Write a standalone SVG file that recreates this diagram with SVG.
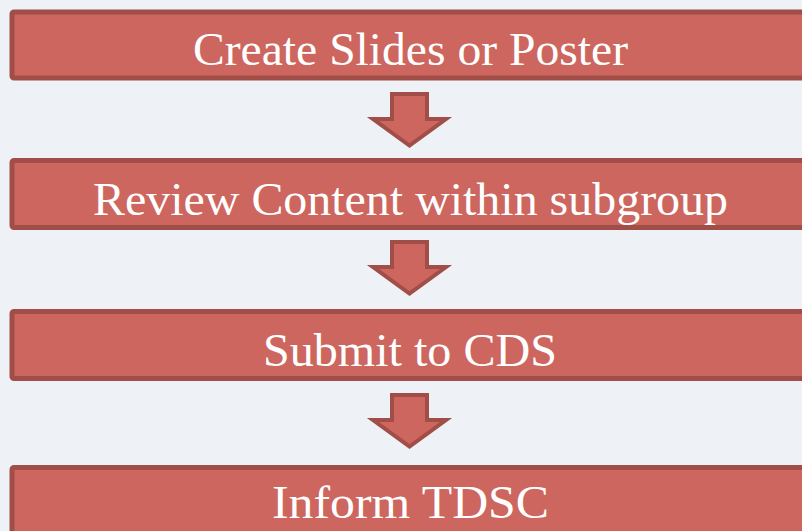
<svg xmlns="http://www.w3.org/2000/svg" width="802" height="531" viewBox="0 0 802 531">
<style>
.box{fill:#cd665e;stroke:#a04e47;stroke-width:5}
.arr{fill:#cd665e;stroke:#a04e47;stroke-width:4;stroke-linejoin:miter}
.t{font-family:"Liberation Serif","Times New Roman",serif;font-size:46px;fill:#ffffff;text-anchor:middle}
</style>
<rect width="802" height="531" fill="#eef2f7"/>
<defs>
<path id="ar" class="arr" d="M392,94 H427 V119 H446 L409.5,145.5 L373,119 H392 Z"/>
</defs>
<g id="connectors">
<use href="#ar"/>
<use href="#ar" transform="translate(0,148)"/>
<use href="#ar" transform="translate(0,301)"/>
</g>
<g id="n1"><rect class="box" x="12" y="12" width="800" height="66" rx="2"/><text class="t" x="410.5" y="65" textLength="435" lengthAdjust="spacingAndGlyphs">Create Slides or Poster</text></g>
<g id="n2"><rect class="box" x="12" y="160.5" width="800" height="67" rx="2"/><text class="t" x="410.5" y="215" textLength="635" lengthAdjust="spacingAndGlyphs">Review Content within subgroup</text></g>
<g id="n3"><rect class="box" x="12" y="311.5" width="800" height="67" rx="2"/><text class="t" x="410" y="366" textLength="294" lengthAdjust="spacingAndGlyphs">Submit to CDS</text></g>
<g id="n4"><rect class="box" x="12" y="467.5" width="800" height="67" rx="2"/><text class="t" x="410.5" y="518" textLength="277" lengthAdjust="spacingAndGlyphs">Inform TDSC</text></g>
</svg>
